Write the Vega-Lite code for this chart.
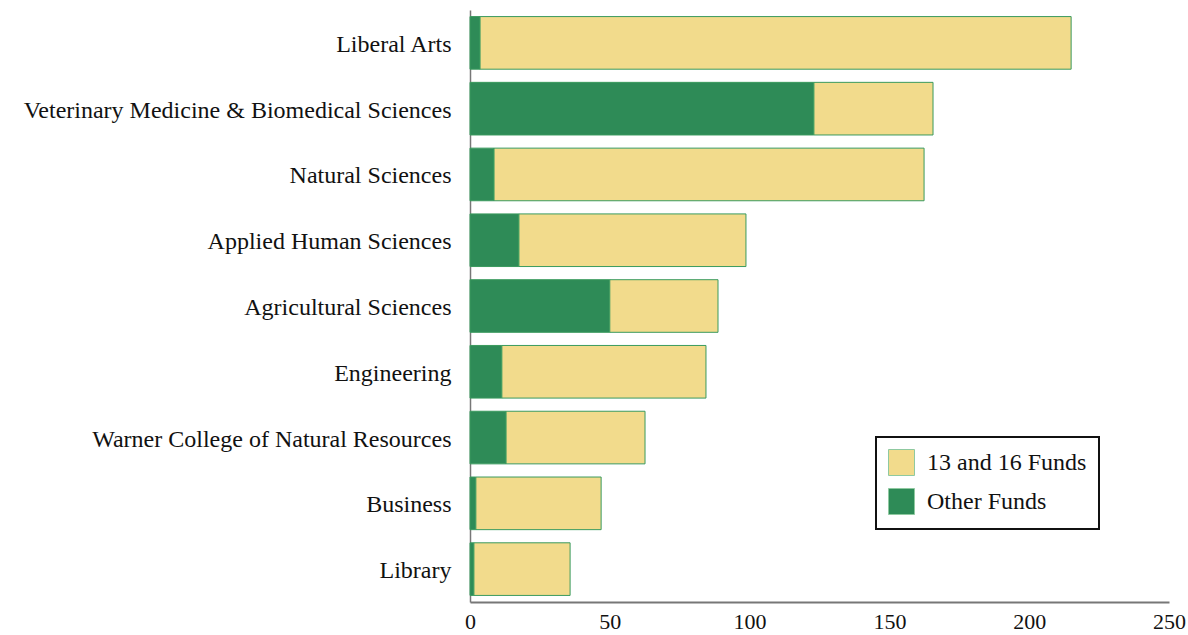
{
  "$schema": "https://vega.github.io/schema/vega-lite/v6.json",
  "autosize": {"type": "none"},
  "padding": {"left": 470, "top": 10, "right": 19, "bottom": 33},
  "width": 699,
  "height": 592,
  "background": "white",
  "data": {
    "values": [
      {"college": "Liberal Arts", "fund": "Other Funds", "value": 3.6},
      {"college": "Liberal Arts", "fund": "13 and 16 Funds", "value": 211.4},
      {"college": "Veterinary Medicine & Biomedical Sciences", "fund": "Other Funds", "value": 123},
      {"college": "Veterinary Medicine & Biomedical Sciences", "fund": "13 and 16 Funds", "value": 42.6},
      {"college": "Natural Sciences", "fund": "Other Funds", "value": 8.6},
      {"college": "Natural Sciences", "fund": "13 and 16 Funds", "value": 153.8},
      {"college": "Applied Human Sciences", "fund": "Other Funds", "value": 17.5},
      {"college": "Applied Human Sciences", "fund": "13 and 16 Funds", "value": 81.2},
      {"college": "Agricultural Sciences", "fund": "Other Funds", "value": 50},
      {"college": "Agricultural Sciences", "fund": "13 and 16 Funds", "value": 38.7},
      {"college": "Engineering", "fund": "Other Funds", "value": 11.4},
      {"college": "Engineering", "fund": "13 and 16 Funds", "value": 73},
      {"college": "Warner College of Natural Resources", "fund": "Other Funds", "value": 12.9},
      {"college": "Warner College of Natural Resources", "fund": "13 and 16 Funds", "value": 49.7},
      {"college": "Business", "fund": "Other Funds", "value": 2.1},
      {"college": "Business", "fund": "13 and 16 Funds", "value": 44.8},
      {"college": "Library", "fund": "Other Funds", "value": 1.4},
      {"college": "Library", "fund": "13 and 16 Funds", "value": 34.4}
    ]
  },
  "mark": {"type": "bar", "stroke": "#3a9a5e", "strokeWidth": 1},
  "encoding": {
    "y": {
      "field": "college",
      "type": "nominal",
      "sort": ["Liberal Arts", "Veterinary Medicine & Biomedical Sciences", "Natural Sciences", "Applied Human Sciences", "Agricultural Sciences", "Engineering", "Warner College of Natural Resources", "Business", "Library"],
      "scale": {"paddingInner": 0.2, "paddingOuter": 0.1},
      "axis": {
        "title": null,
        "ticks": false,
        "labelFont": "Liberation Serif",
        "labelFontSize": 24,
        "labelColor": "#111",
        "labelPadding": 19,
        "labelOffset": 2,
        "labelLimit": 0,
        "domainColor": "#777",
        "domainWidth": 1.5
      }
    },
    "x": {
      "field": "value",
      "type": "quantitative",
      "stack": "zero",
      "scale": {"domain": [0, 250], "nice": false},
      "axis": {
        "title": null,
        "values": [0, 50, 100, 150, 200, 250],
        "ticks": false,
        "grid": false,
        "labelFont": "Liberation Serif",
        "labelFontSize": 22,
        "labelColor": "#111",
        "labelPadding": 9,
        "labelFlush": false,
        "domainColor": "#777",
        "domainWidth": 2
      }
    },
    "color": {
      "field": "fund",
      "type": "nominal",
      "scale": {"domain": ["13 and 16 Funds", "Other Funds"], "range": ["#f2db8c", "#2e8b57"]},
      "legend": {
        "title": null,
        "orient": "none",
        "legendX": 406,
        "legendY": 427,
        "strokeColor": "#111",
        "padding": 12,
        "symbolType": "square",
        "symbolSize": 676,
        "symbolStrokeColor": "#8fc9a0",
        "symbolStrokeWidth": 1,
        "labelFont": "Liberation Serif",
        "labelFontSize": 24,
        "labelColor": "#111",
        "labelOffset": 12,
        "rowPadding": 8,
        "fillColor": "white",
        "encode": {"legend": {"update": {"strokeWidth": {"value": 2}}}}
      }
    },
    "order": {"field": "fund", "sort": "descending"}
  },
  "config": {"view": {"stroke": null}}
}
